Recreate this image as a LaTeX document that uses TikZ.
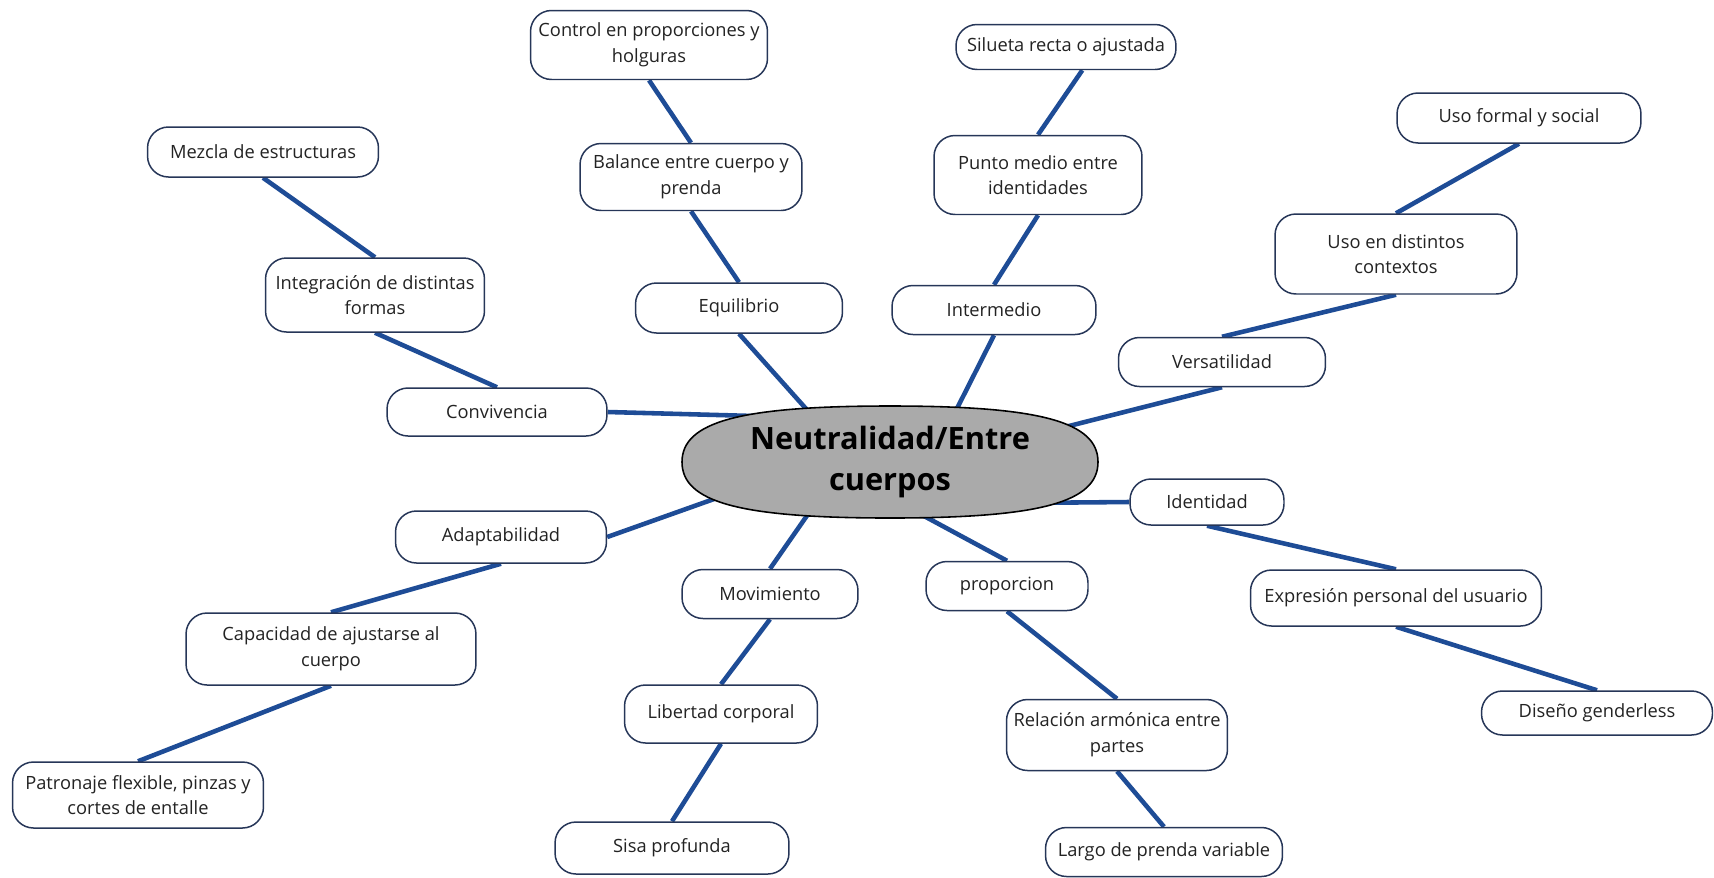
\documentclass[tikz,border=0pt]{standalone}
\usepackage{fontspec}
\setmainfont{Open Sans}
\usetikzlibrary{shapes.geometric, backgrounds}

\definecolor{linkblue}{RGB}{30,76,150}
\definecolor{boxline}{RGB}{38,54,88}
\definecolor{hubgray}{RGB}{170,170,170}
\definecolor{ink}{RGB}{35,35,35}

\begin{document}
\begin{tikzpicture}[
  x=0.02cm, y=-0.02cm,
  idea/.style={draw=boxline, line width=0.85pt, fill=white, rounded corners=0.42cm,
    align=center, inner sep=2pt, text=ink, font=\fontsize{10.4}{14.6}\selectfont},
  hub/.style={ellipse, inner sep=0pt, align=center, text=black,
    font=\fontsize{17.5}{23.6}\selectfont\bfseries},
  link/.style={draw=linkblue, line width=2.6pt}
]
\useasboundingbox (0,0) rectangle (1714,877);

% --- the central topic ---
\node[hub] (ctr) at (890,462) {Neutralidad/Entre\\cuerpos};

% --- upper left: convivencia and equilibrio ---
\node[idea, minimum width=4.74cm, minimum height=1.38cm] (ctrl) at (649,45) {Control en proporciones y\\holguras};
\node[idea, minimum width=4.44cm, minimum height=1.34cm] (bal) at (691,177) {Balance entre cuerpo y\\prenda};
\node[idea, minimum width=4.14cm, minimum height=1.00cm] (equi) at (739,308) {Equilibrio};
\node[idea, minimum width=4.62cm, minimum height=1.00cm] (mez) at (263,152) {Mezcla de estructuras};
\node[idea, minimum width=4.38cm, minimum height=1.48cm] (integ) at (375,295) {Integración de distintas\\formas};
\node[idea, minimum width=4.40cm, minimum height=0.96cm] (conv) at (497,412) {Convivencia};

% --- upper right: intermedio and versatilidad ---
\node[idea, minimum width=4.40cm, minimum height=0.90cm] (silu) at (1066,47) {Silueta recta o ajustada};
\node[idea, minimum width=4.16cm, minimum height=1.58cm] (punto) at (1038,175) {Punto medio entre\\identidades};
\node[idea, minimum width=4.08cm, minimum height=0.98cm] (inter) at (994,310) {Intermedio};
\node[idea, minimum width=4.88cm, minimum height=1.00cm] (usof) at (1519,118) {Uso formal y social};
\node[idea, minimum width=4.84cm, minimum height=1.60cm] (usod) at (1396,254) {Uso en distintos\\contextos};
\node[idea, minimum width=4.14cm, minimum height=0.98cm] (vers) at (1222,362) {Versatilidad};

% --- lower right: identidad and proporcion ---
\node[idea, minimum width=3.08cm, minimum height=0.92cm] (ident) at (1207,502) {Identidad};
\node[idea, minimum width=5.82cm, minimum height=1.12cm] (expr) at (1396,598) {Expresión personal del usuario};
\node[idea, minimum width=4.62cm, minimum height=0.88cm] (dise) at (1597,713) {Diseño genderless};
\node[idea, minimum width=3.24cm, minimum height=0.98cm] (prop) at (1007,586) {proporcion};
\node[idea, minimum width=4.42cm, minimum height=1.42cm] (rela) at (1117,735) {Relación armónica entre\\partes};
\node[idea, minimum width=4.74cm, minimum height=0.98cm] (largo) at (1164,852) {Largo de prenda variable};

% --- lower left: movimiento and adaptabilidad ---
\node[idea, minimum width=3.52cm, minimum height=0.98cm] (movi) at (770,594) {Movimiento};
\node[idea, minimum width=3.86cm, minimum height=1.16cm] (libe) at (721,714) {Libertad corporal};
\node[idea, minimum width=4.68cm, minimum height=1.04cm] (sisa) at (672,848) {Sisa profunda};
\node[idea, minimum width=4.22cm, minimum height=1.04cm] (adap) at (501,537) {Adaptabilidad};
\node[idea, minimum width=5.80cm, minimum height=1.44cm] (capa) at (331,649) {Capacidad de ajustarse al\\cuerpo};
\node[idea, minimum width=5.02cm, minimum height=1.32cm] (patr) at (138,795) {Patronaje flexible, pinzas y\\cortes de entalle};

\begin{pgfonlayer}{background}
% connectors, ends at the hub tucked under its fill
\draw[link] (ctrl.south) -- (bal.north);
\draw[link] (bal.south) -- (equi.north);
\draw[link] (equi.south) -- (ctr.149);
\draw[link] (mez.south) -- (integ.north);
\draw[link] (integ.south) -- (conv.north);
\draw[link] (conv.east) -- (ctr.155.5);
\draw[link] (silu.-55) -- (punto.north);
\draw[link] (punto.south) -- (inter.north);
\draw[link] (inter.south) -- (ctr.37);
\draw[link] (usof.south) -- (usod.north);
\draw[link] (usod.south) -- (vers.north);
\draw[link] (vers.south) -- (ctr.11);
\draw[link] (ctr.-19.7) -- (ident.west);
\draw[link] (ident.south) -- (expr.north);
\draw[link] (expr.south) -- (dise.north);
\draw[link] (ctr.-61.5) -- (prop.north);
\draw[link] (prop.south) -- (rela.north);
\draw[link] (rela.south) -- (largo.north);
\draw[link] (ctr.211) -- (movi.north);
\draw[link] (movi.south) -- (libe.north);
\draw[link] (libe.south) -- (sisa.north);
\draw[link] (ctr.191) -- (adap.east);
\draw[link] (adap.south) -- (capa.north);
\draw[link] (capa.south) -- (patr.north);

% the grey oval behind the hub text
\begin{scope}[shift={(ctr)}]
  \draw[black, line width=0.9pt, fill=hubgray]
    (-208,0) .. controls (-208,-40.3) and (-149.8,-56) .. (0,-56)
    .. controls (149.8,-56) and (208,-40.3) .. (208,0)
    .. controls (208,40.3) and (149.8,56) .. (0,56)
    .. controls (-149.8,56) and (-208,40.3) .. (-208,0) -- cycle;
\end{scope}
\end{pgfonlayer}

\end{tikzpicture}
\end{document}
